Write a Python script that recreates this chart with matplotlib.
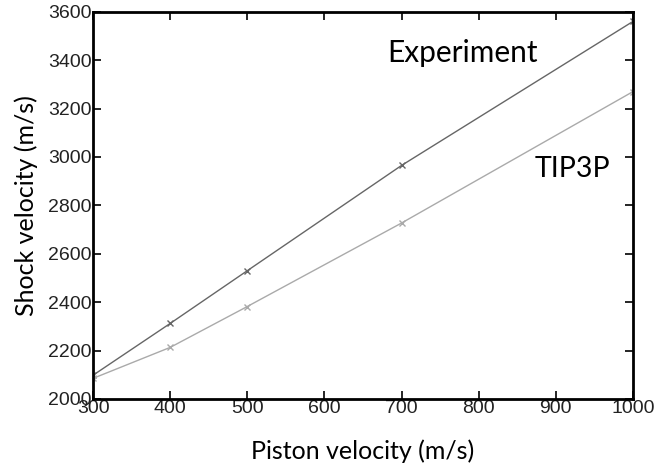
import matplotlib.pyplot as plt

piston = [300, 400, 500, 700, 1000]
experiment = [2098, 2312, 2530, 2965, 3560]
tip3p = [2085, 2213, 2382, 2727, 3270]

fig = plt.figure(figsize=(6.6, 4.71), dpi=100)
ax = fig.add_axes([0.141, 0.153, 0.818, 0.822])

ax.plot(piston, experiment, color='#666666', lw=1, marker='x', ms=4, mew=1)
ax.plot(piston, tip3p, color='#aaaaaa', lw=1, marker='x', ms=4, mew=1)

ax.set_xlim(300, 1000)
ax.set_ylim(2000, 3600)
ax.set_xticks(range(300, 1001, 100))
ax.set_yticks(range(2000, 3601, 200))

for s in ax.spines.values():
    s.set_linewidth(2)
ax.tick_params(direction='in', length=6, width=1.2, top=True, right=True,
               labelsize=14, pad=1)
for lab in ax.get_xticklabels() + ax.get_yticklabels():
    lab.set_family('Liberation Sans')
    lab.set_color('#222222')

# series labels
ax.text(681, 3393, 'Experiment', fontsize=21.5, family='Lato', va='baseline')
ax.text(873, 2918, 'TIP3P', fontsize=20.5, family='Lato', va='baseline')

ax.set_xlabel('Piston velocity (m/s)', fontsize=18, family='Lato', labelpad=16)
ax.set_ylabel('Shock velocity (m/s)', fontsize=18, family='Lato', labelpad=7)

plt.savefig('out.png', dpi=100)
